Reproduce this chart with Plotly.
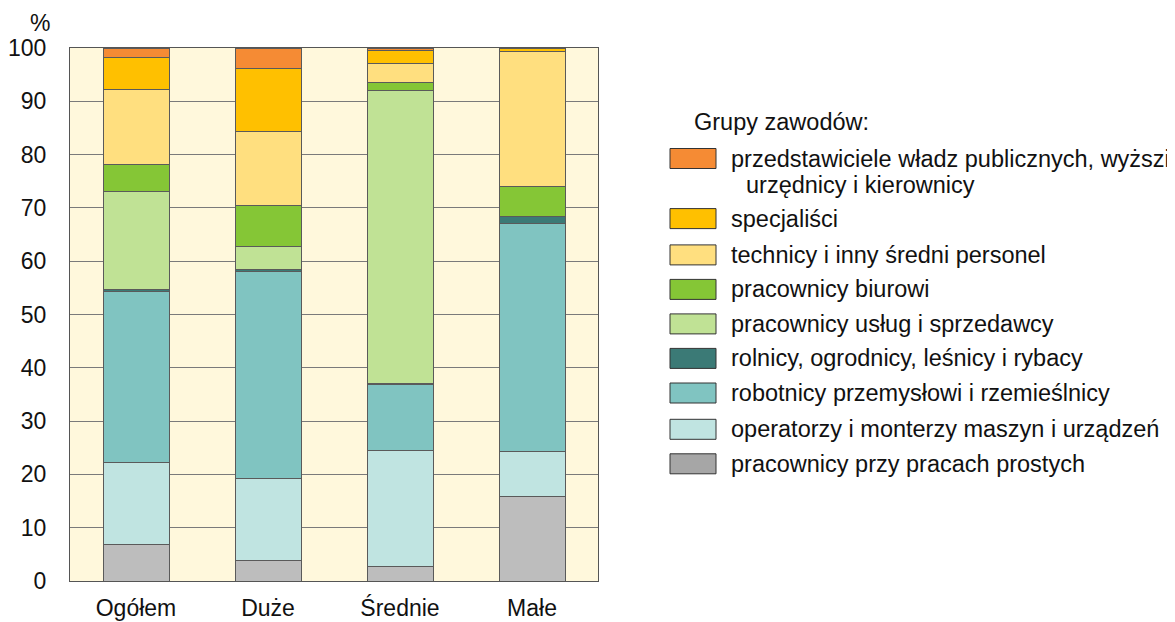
import plotly.graph_objects as go

categories = ["Ogółem", "Duże", "Średnie", "Małe"]

group_names = [
    "pracownicy przy pracach prostych",
    "operatorzy i monterzy maszyn i urządzeń",
    "robotnicy przemysłowi i rzemieślnicy",
    "rolnicy, ogrodnicy, leśnicy i rybacy",
    "pracownicy usług i sprzedawcy",
    "pracownicy biurowi",
    "technicy i inny średni personel",
    "specjaliści",
    "przedstawiciele władz publicznych, wyższi urzędnicy i kierownicy",
]

prace_proste = [6.8, 3.9, 2.8, 15.9]
operatorzy = [15.4, 15.4, 21.7, 8.4]
robotnicy = [32.1, 38.75, 12.4, 42.8]
rolnicy = [0.4, 0.35, 0.1, 1.3]
uslugi = [18.3, 4.3, 55.1, 0.0]
biurowi = [5.2, 7.7, 1.5, 5.6]
technicy = [14.0, 13.9, 3.5, 25.4]
specjalisci = [6.0, 11.9, 2.5, 0.5]
przedstawiciele = [1.8, 3.8, 0.4, 0.1]

series = [prace_proste, operatorzy, robotnicy, rolnicy, uslugi,
          biurowi, technicy, specjalisci, przedstawiciele]

colors = ["#BDBDBD", "#C0E4E1", "#80C4C1", "#3B7A76", "#C0E295",
          "#85C636", "#FFDF7F", "#FFC000", "#F58B34"]
legend_colors = ["#A6A6A6", "#C0E4E1", "#80C4C1", "#3B7A76", "#C0E295",
                 "#85C636", "#FFDF7F", "#FFC000", "#F58B34"]

y_ticks = [0, 10, 20, 30, 40, 50, 60, 70, 80, 90, 100]

# page body has an 8px margin: size the figure so it fits the window
OFF = 8
W, H = 1175 - OFF, 622 - OFF
L, R, T, B = 70 - OFF, 598 - OFF, 48 - OFF, 581 - OFF

fig = go.Figure()
for name, vals, col in zip(group_names, series, colors):
    fig.add_trace(go.Bar(
        x=categories, y=vals, name=name,
        marker=dict(color=col, line=dict(color="#5A5A5A", width=1)),
        showlegend=False,
    ))

FONT = "Liberation Sans, Arial, sans-serif"

fig.update_layout(
    width=W, height=H,
    barmode="stack", bargap=0.5,
    margin=dict(l=L, r=W - R, t=T, b=H - B, pad=0, autoexpand=False),
    plot_bgcolor="#FFF8DC", paper_bgcolor="#FFFFFF",
    font=dict(family=FONT, size=23, color="#111111"),
    xaxis=dict(
        range=[-0.5, 3.5], showgrid=False, showline=True, mirror=True,
        linecolor="#555555", linewidth=1, ticks="", ticklabelstandoff=6,
        tickfont=dict(size=23), automargin=False,
    ),
    yaxis=dict(
        range=[0, 100], tickvals=y_ticks, showgrid=True, gridcolor="#7A7A7A",
        gridwidth=1, showline=True, mirror=True, linecolor="#555555",
        linewidth=1, ticks="", ticklabelstandoff=18, zeroline=False,
        tickfont=dict(size=23), automargin=False,
    ),
)


def px_x(px):
    return (px - OFF - L) / (R - L)


def px_y(py):
    return (B - (py - OFF)) / (B - T)


LEG_FONT = 23.5

annotations = [
    dict(text="%", x=px_x(40), y=px_y(OFF + 1), xref="paper", yref="paper",
         showarrow=False, xanchor="center", yanchor="top", borderpad=0,
         font=dict(size=23, color="#111111")),
    dict(text="Grupy zawodów:", x=px_x(692), y=px_y(122), xref="paper",
         yref="paper", showarrow=False, xanchor="left", yanchor="middle",
         font=dict(size=LEG_FONT, color="#111111")),
]
shapes = []

legend_order = list(range(len(group_names)))[::-1]
centers = [158.5, 218.6, 254.9, 289.4, 323.9, 358.4, 393.0, 429.3, 463.8]
labels_disp = [
    "przedstawiciele władz publicznych, wyższi",
    "specjaliści",
    "technicy i inny średni personel",
    "pracownicy biurowi",
    "pracownicy usług i sprzedawcy",
    "rolnicy, ogrodnicy, leśnicy i rybacy",
    "robotnicy przemysłowi i rzemieślnicy",
    "operatorzy i monterzy maszyn i urządzeń",
    "pracownicy przy pracach prostych",
]
for k, idx in enumerate(legend_order):
    cy = centers[k]
    shapes.append(dict(
        type="rect", xref="paper", yref="paper",
        x0=px_x(670), x1=px_x(716), y0=px_y(cy + 10), y1=px_y(cy - 10),
        fillcolor=legend_colors[idx], line=dict(color="#333333", width=1),
    ))
    annotations.append(dict(
        text=labels_disp[k], x=px_x(729), y=px_y(cy), xref="paper",
        yref="paper", showarrow=False, xanchor="left", yanchor="middle",
        font=dict(size=LEG_FONT, color="#111111"),
    ))
annotations.append(dict(
    text="urzędnicy i kierownicy", x=px_x(744), y=px_y(184.5), xref="paper",
    yref="paper", showarrow=False, xanchor="left", yanchor="middle",
    font=dict(size=LEG_FONT, color="#111111"),
))

fig.update_layout(annotations=annotations, shapes=shapes)
fig.write_html("out.html")
